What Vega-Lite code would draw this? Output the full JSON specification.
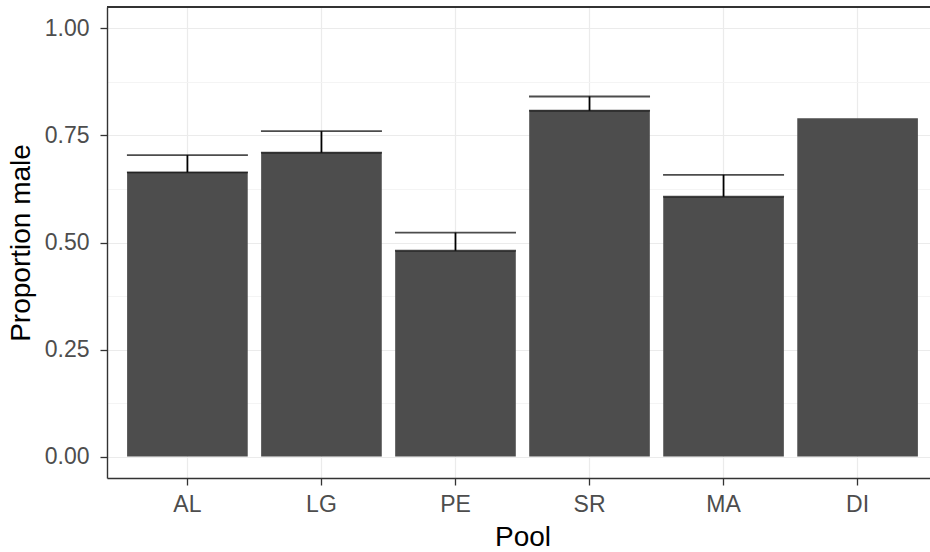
{
  "$schema": "https://vega.github.io/schema/vega-lite/v6.json",
  "autosize": {"type": "none"},
  "padding": {"left": 107, "top": 7, "right": 0, "bottom": 74},
  "width": 823,
  "height": 471,
  "background": "white",
  "data": {
    "values": [
      {"pool": "AL", "prop": 0.664, "upper": 0.704},
      {"pool": "LG", "prop": 0.710, "upper": 0.760},
      {"pool": "PE", "prop": 0.481, "upper": 0.523},
      {"pool": "SR", "prop": 0.808, "upper": 0.841},
      {"pool": "MA", "prop": 0.607, "upper": 0.658},
      {"pool": "DI", "prop": 0.790, "upper": null}
    ]
  },
  "config": {
    "view": {"stroke": null},
    "font": "Liberation Sans",
    "axis": {
      "labelFont": "Liberation Sans",
      "titleFont": "Liberation Sans",
      "labelColor": "#4D4D4D",
      "labelFontSize": 23,
      "titleFontSize": 28,
      "titleFontWeight": "normal",
      "titleColor": "#000000",
      "domainColor": "#333333",
      "domainWidth": 1.4,
      "tickColor": "#333333",
      "tickWidth": 1.3,
      "tickSize": 7,
      "gridColor": "#EBEBEB",
      "gridWidth": 1.2
    }
  },
  "resolve": {"axis": {"y": "independent"}},
  "layer": [
    {
      "mark": {"type": "bar", "color": "#4D4D4D"},
      "encoding": {
        "x": {
          "field": "pool",
          "type": "nominal",
          "sort": null,
          "title": "Pool",
          "scale": {"range": [0, 831], "paddingInner": 0.1, "paddingOuter": 0.15},
          "axis": {"labelAngle": 0, "grid": true, "bandPosition": 0.5, "labelPadding": 8, "titlePadding": 7}
        },
        "y": {
          "field": "prop",
          "type": "quantitative",
          "title": "Proportion male",
          "scale": {"domain": [-0.05, 1.05], "nice": false, "zero": false},
          "axis": {"values": [0, 0.25, 0.5, 0.75, 1], "format": ".2f", "labelPadding": 11, "titlePadding": 9, "grid": true}
        }
      }
    },
    {
      "mark": {"type": "rule", "color": "#000000", "strokeWidth": 1.8},
      "encoding": {
        "x": {"field": "pool", "type": "nominal", "sort": null},
        "y": {
          "field": "prop",
          "type": "quantitative",
          "axis": {"orient": "left", "values": [0.125, 0.375, 0.625, 0.875], "grid": true, "gridColor": "#F3F3F3", "gridWidth": 0.9, "labels": false, "ticks": false, "domain": false, "title": null}
        },
        "y2": {"field": "upper"}
      }
    },
    {
      "transform": [{"filter": "datum.upper != null"}],
      "mark": {"type": "tick", "color": "#000000", "thickness": 1.8, "size": 121, "orient": "horizontal"},
      "encoding": {
        "x": {"field": "pool", "type": "nominal", "sort": null},
        "y": {"field": "upper", "type": "quantitative", "axis": null}
      }
    },
    {
      "transform": [{"filter": "datum.upper != null"}],
      "mark": {"type": "tick", "color": "#000000", "thickness": 1.8, "size": 121, "orient": "horizontal"},
      "encoding": {
        "x": {"field": "pool", "type": "nominal", "sort": null},
        "y": {"field": "prop", "type": "quantitative", "axis": null}
      }
    },
    {
      "mark": {"type": "rule", "color": "#333333", "strokeWidth": 1.4},
      "encoding": {
        "y": {"datum": 1.05, "type": "quantitative", "axis": null}
      }
    }
  ]
}
